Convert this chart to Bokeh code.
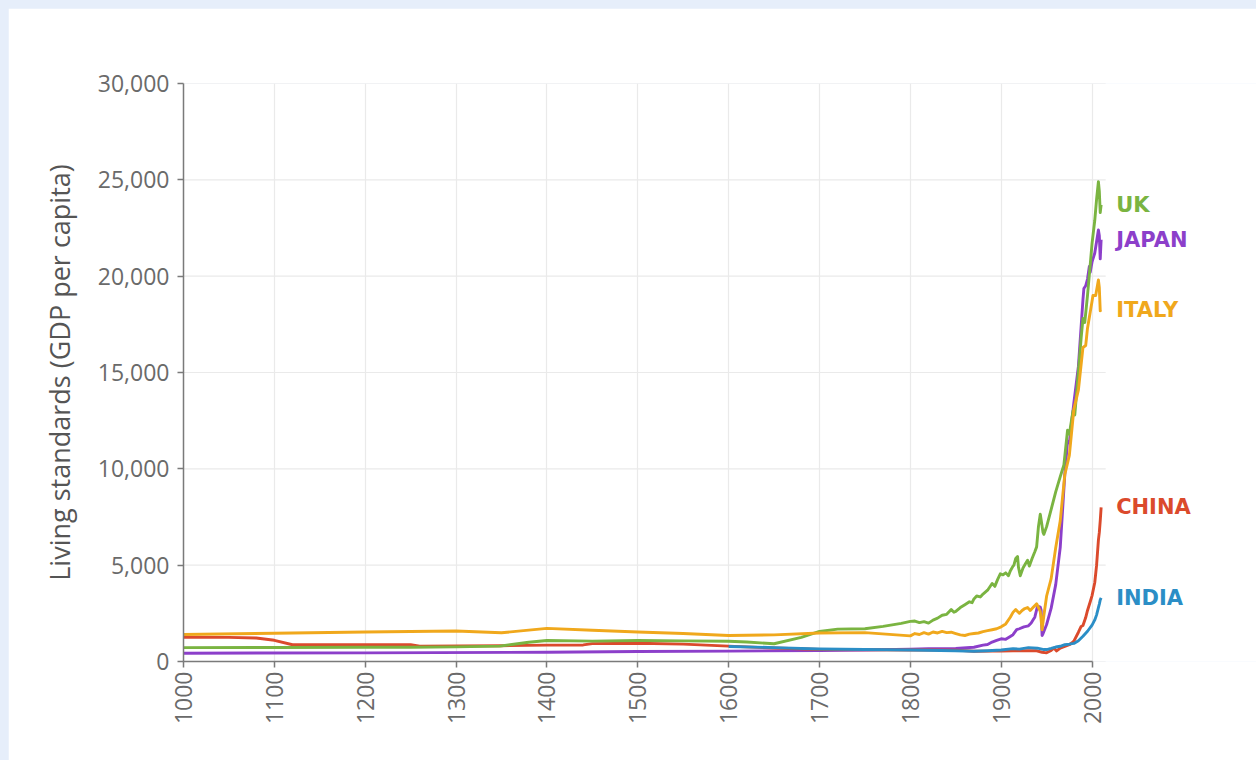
from bokeh.plotting import figure
from bokeh.models import (FixedTicker, NumeralTickFormatter, GlobalInlineStyleSheet,
                          ColumnDataSource, Range1d, LabelSet)
from bokeh.core.properties import value
from bokeh.embed import file_html
from bokeh.resources import INLINE
import math

# ---------------- data (GDP per capita) ----------------
uk_years = [1000, 1100, 1200, 1250, 1300, 1348, 1380, 1400, 1450, 1500, 1550, 1600, 1620, 1650,
            1680, 1700, 1720, 1750, 1770, 1790, 1800, 1805, 1810, 1815, 1820, 1825, 1830, 1835,
            1840, 1845, 1848, 1850, 1855, 1860, 1865, 1868, 1870, 1873, 1877, 1880, 1885, 1890,
            1893, 1896, 1899, 1902, 1905, 1908, 1910, 1913, 1914, 1916, 1918, 1919, 1921, 1924,
            1927, 1929, 1931, 1934, 1937, 1939, 1941, 1943, 1944, 1946, 1947, 1950, 1955, 1960,
            1965, 1969, 1973, 1975, 1979, 1981, 1984, 1988, 1990, 1992, 1995, 1998, 2000, 2003,
            2005, 2007, 2008, 2009, 2010]
uk_vals = [720, 730, 740, 740, 760, 800, 1000, 1090, 1060, 1090, 1070, 1050, 1010, 920,
           1250, 1560, 1680, 1700, 1820, 1980, 2080, 2100, 2020, 2070, 1990, 2150, 2250, 2400,
           2450, 2700, 2560, 2600, 2800, 2950, 3100, 3050, 3250, 3400, 3350, 3500, 3700, 4050,
           3900, 4250, 4550, 4500, 4600, 4450, 4700, 4950, 5000, 5350, 5450, 4900, 4450, 4850,
           5100, 5250, 4950, 5350, 5700, 5950, 7000, 7650, 7350, 6700, 6600, 7000, 7900, 8800,
           9600, 10200, 12000, 11800, 13000, 12800, 14500, 16800, 17800, 17600, 19000, 20600, 21700, 22900,
           24000, 24900, 24400, 23300, 23700]

japan_years = [1000, 1200, 1400, 1500, 1600, 1700, 1750, 1800, 1820, 1850, 1870, 1880, 1885, 1890,
               1895, 1900, 1905, 1910, 1913, 1917, 1920, 1925, 1930, 1933, 1935, 1937, 1940, 1943,
               1944, 1945, 1946, 1950, 1955, 1960, 1965, 1970, 1973, 1975, 1980, 1985, 1990, 1991,
               1993, 1995, 1997, 1998, 2000, 2003, 2005, 2007, 2008, 2009, 2010]
japan_vals = [430, 450, 480, 520, 540, 570, 600, 640, 670, 680, 740, 850, 880, 1010,
              1100, 1180, 1150, 1300, 1390, 1650, 1700, 1800, 1850, 2000, 2150, 2300, 2870, 2820,
              2660, 1350, 1440, 1920, 2770, 3990, 5930, 9710, 11430, 11340, 13430, 15330, 18790, 19360,
              19500, 19850, 20500, 20200, 20740, 21200, 21800, 22400, 22100, 20900, 21900]

italy_years = [1000, 1100, 1200, 1300, 1350, 1400, 1450, 1500, 1550, 1600, 1650, 1700, 1750, 1800,
               1805, 1810, 1815, 1820, 1825, 1830, 1835, 1840, 1845, 1850, 1855, 1860, 1865, 1870,
               1875, 1880, 1885, 1890, 1895, 1900, 1905, 1910, 1913, 1916, 1918, 1920, 1923, 1926,
               1929, 1932, 1935, 1938, 1939, 1941, 1943, 1945, 1947, 1950, 1955, 1960, 1965, 1970,
               1975, 1980, 1985, 1990, 1993, 1995, 2000, 2001, 2004, 2007, 2008, 2009, 2010]
italy_vals = [1400, 1470, 1530, 1580, 1490, 1720, 1620, 1530, 1450, 1350, 1380, 1480, 1500, 1330,
              1450, 1400, 1500, 1420, 1530, 1480, 1560, 1500, 1520, 1450, 1380, 1350, 1420, 1450,
              1480, 1550, 1600, 1650, 1700, 1800, 1950, 2300, 2550, 2700, 2600, 2500, 2650, 2750,
              2800, 2650, 2800, 2950, 3000, 2800, 2600, 1650, 2400, 3400, 4300, 5900, 7300, 9700,
              10700, 13100, 14100, 16300, 16400, 17300, 18700, 19000, 19000, 19800, 19400, 18200, 18250]

china_years = [1000, 1050, 1080, 1100, 1120, 1250, 1260, 1350, 1400, 1440, 1450, 1500, 1550, 1600,
               1650, 1700, 1750, 1800, 1820, 1850, 1870, 1890, 1900, 1913, 1929, 1938, 1945, 1950,
               1955, 1958, 1961, 1965, 1970, 1975, 1978, 1980, 1985, 1988, 1990, 1993, 1995, 1998,
               2000, 2003, 2005, 2007, 2008, 2009, 2010]
china_vals = [1260, 1250, 1220, 1100, 870, 870, 800, 820, 850, 860, 930, 950, 900, 800,
              700, 620, 610, 600, 600, 590, 530, 540, 545, 550, 560, 560, 480, 450,
              570, 700, 550, 700, 780, 870, 980, 1060, 1520, 1820, 1870, 2280, 2650, 3100,
              3420, 4100, 5000, 6300, 6700, 7300, 8000]

india_years = [1600, 1650, 1700, 1750, 1800, 1850, 1870, 1885, 1900, 1913, 1920, 1930, 1940, 1947,
               1950, 1955, 1960, 1965, 1970, 1975, 1980, 1985, 1990, 1995, 2000, 2003, 2005, 2007,
               2008, 2009, 2010]
india_vals = [780, 720, 650, 620, 600, 560, 530, 560, 600, 670, 640, 720, 690, 620,
              620, 680, 750, 790, 870, 900, 940, 1080, 1310, 1570, 1890, 2160, 2420, 2800,
              2980, 3200, 3300]

countries = ["UK", "JAPAN", "ITALY", "CHINA", "INDIA"]
colors = {"UK": "#7ab441", "JAPAN": "#8c3fca", "ITALY": "#f0a81c",
          "CHINA": "#db4a2c", "INDIA": "#2b8ec6"}
series = {"UK": (uk_years, uk_vals), "JAPAN": (japan_years, japan_vals),
          "ITALY": (italy_years, italy_vals), "CHINA": (china_years, china_vals),
          "INDIA": (india_years, india_vals)}
x_ticks = list(range(1000, 2001, 100))
y_ticks = [0, 5000, 10000, 15000, 20000, 25000, 30000]
x_start, x_grid_end, x_view_end = 1000, 2015, 2181

# ---------------- figure ----------------
p = figure(width=1248, height=752, output_backend="svg", toolbar_location=None,
           x_range=Range1d(x_start, x_view_end), y_range=Range1d(0, 30000),
           min_border_left=175, min_border_right=0, min_border_top=75, min_border_bottom=99)
p.stylesheets = [GlobalInlineStyleSheet(css="html, body { background: #e6eefa; margin: 0; padding: 0; } body { padding: 8px 0 0 8px; overflow: hidden; }")]
p.outline_line_color = None
p.background_fill_color = "white"
p.border_fill_color = "white"

font = "Open Sans"
for ax in (p.xaxis[0], p.yaxis[0]):
    ax.axis_line_color = "#7a7a7a"
    ax.axis_line_width = 1.5
    ax.major_tick_line_color = "#7a7a7a"
    ax.major_tick_line_width = 1.5
    ax.major_tick_out = 6
    ax.major_tick_in = 0
    ax.minor_tick_line_color = None
    ax.major_label_text_font = font
    ax.major_label_text_color = "#6a6a6a"

p.xaxis.ticker = FixedTicker(ticks=x_ticks)
p.xaxis.bounds = (1000, 2000)
p.xaxis.major_label_orientation = math.pi / 2
p.xaxis.major_label_standoff = 4
p.xaxis.major_label_text_font_size = "23px"

p.yaxis.ticker = FixedTicker(ticks=y_ticks)
p.yaxis.formatter = NumeralTickFormatter(format="0,0")
p.yaxis.major_label_standoff = 8
p.yaxis.major_label_text_font_size = "23px"
p.yaxis.axis_label = "Living standards (GDP per capita)"
p.yaxis.axis_label_text_font = font
p.yaxis.axis_label_text_font_style = "normal"
p.yaxis.axis_label_text_font_size = "27px"
p.yaxis.axis_label_text_color = "#555555"
p.yaxis.axis_label_standoff = 17

p.xgrid.ticker = FixedTicker(ticks=x_ticks)
p.xgrid.grid_line_color = "#eaeaea"
p.xgrid.grid_line_width = 1.2
p.ygrid.visible = False
# horizontal grid lines, limited to the data area (the frame extends right for the labels)
p.segment(x0=[x_start] * len(y_ticks), x1=[x_grid_end] * len(y_ticks), y0=y_ticks, y1=y_ticks,
          line_color="#eaeaea", line_width=1.2, level="underlay")

draw_order = ["JAPAN", "CHINA", "UK", "ITALY", "INDIA"]
for name in draw_order:
    xs, ys = series[name]
    p.line(xs, ys, line_color=colors[name], line_width=2.9, line_join="round")

lab = ColumnDataSource(dict(
    x=[series[c][0][-1] for c in countries],
    y=[series[c][1][-1] for c in countries],
    t=countries,
    c=[colors[c] for c in countries],
))
labels = LabelSet(x="x", y="y", text="t", text_color="c", source=lab, x_offset=15,
                  text_baseline="middle", text_align="left",
                  text_font=value("DejaVu Sans"), text_font_style="bold",
                  text_font_size="21px")
p.add_layout(labels)

open("out.html", "w").write(file_html(p, INLINE))
